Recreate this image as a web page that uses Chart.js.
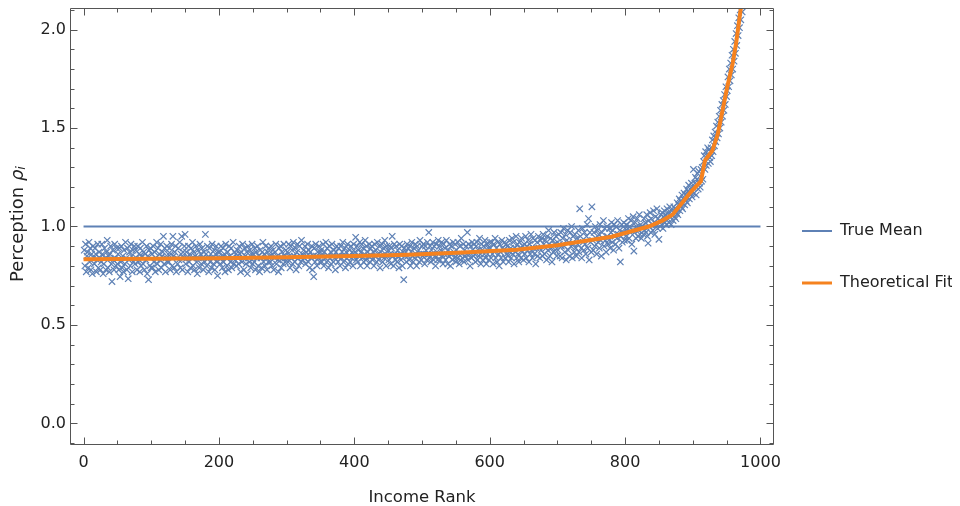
<!DOCTYPE html>
<html>
<head>
<meta charset="utf-8">
<script src="https://cdn.jsdelivr.net/npm/chart.js@4.4.0/dist/chart.umd.min.js"></script>
<style>
html, body { margin: 0; padding: 0; background: #fff; }
</style>
</head>
<body>
<canvas id="chart" width="960" height="506"></canvas>
<script>
// perception of each person, by income rank (1, 2, 3 ...)
var perception = [
 .88,.80,.91,.77,.85,.87,.79,.92,.82,.89,.78,.86,.76,.90,.84,.81,.89,.86,.77,.83,.91,.79,.87,.84,.78,
 .82,.91,.86,.76,.81,.89,.84,.78,.87,.93,.79,.85,.77,.86,.90,.81,.72,.88,.83,.78,.91,.84,.80,.89,.81,
 .86,.78,.89,.745,.82,.90,.79,.85,.77,.88,.81,.92,.84,.78,.89,.735,.83,.87,.80,.91,.85,.77,.88,.82,.90,
 .81,.88,.84,.78,.90,.82,.86,.77,.89,.80,.85,.92,.81,.87,.78,.86,.83,.90,.76,.85,.73,.88,.80,.89,.79,
 .86,.79,.90,.82,.87,.77,.84,.92,.81,.89,.78,.86,.83,.91,.79,.85,.87,.95,.81,.89,.77,.84,.90,.82,.86,
 .82,.89,.78,.86,.91,.80,.95,.85,.79,.87,.90,.77,.84,.81,.89,.83,.92,.79,.86,.95,.78,.87,.84,.90,.96,
 .81,.87,.84,.77,.90,.82,.86,.79,.89,.84,.92,.80,.87,.78,.85,.90,.82,.76,.88,.84,.79,.91,.86,.81,.89,
 .84,.78,.87,.82,.96,.86,.80,.90,.84,.77,.89,.82,.86,.79,.91,.84,.81,.88,.78,.86,.90,.82,.75,.87,.84,
 .87,.81,.90,.84,.79,.89,.82,.86,.77,.91,.84,.80,.87,.78,.90,.85,.82,.89,.79,.84,.92,.81,.87,.83,.86,
 .80,.88,.84,.81,.90,.86,.77,.87,.82,.91,.84,.78,.89,.85,.81,.87,.76,.90,.84,.82,.88,.79,.86,.91,.81,
 .86,.82,.89,.78,.87,.84,.90,.80,.85,.77,.88,.84,.79,.87,.92,.82,.86,.80,.90,.84,.78,.87,.82,.89,.85,
 .82,.90,.80,.86,.88,.78,.84,.87,.91,.81,.85,.83,.77,.89,.84,.90,.79,.87,.84,.81,.91,.85,.82,.88,.84,
 .87,.82,.91,.85,.79,.90,.84,.88,.81,.92,.85,.82,.89,.78,.87,.91,.84,.80,.90,.85,.82,.93,.86,.83,.88,
 .84,.90,.81,.87,.85,.91,.82,.88,.79,.87,.84,.90,.78,.85,.745,.89,.82,.91,.85,.80,.87,.84,.90,.82,.87,
 .88,.82,.85,.91,.80,.87,.84,.92,.82,.89,.85,.79,.90,.84,.87,.81,.91,.85,.82,.88,.84,.78,.87,.90,.85,
 .82,.89,.85,.80,.90,.84,.87,.92,.82,.85,.89,.79,.87,.84,.91,.81,.85,.88,.82,.90,.84,.87,.80,.91,.85,
 .87,.945,.83,.90,.82,.88,.85,.92,.80,.87,.91,.84,.89,.82,.86,.93,.83,.90,.80,.87,.85,.91,.82,.89,.85,
 .90,.83,.87,.80,.91,.85,.88,.82,.92,.86,.83,.90,.79,.87,.85,.91,.82,.89,.84,.93,.86,.80,.90,.85,.88,
 .83,.90,.86,.81,.89,.95,.85,.80,.91,.86,.83,.90,.82,.88,.85,.79,.91,.86,.83,.90,.80,.87,.73,.89,.85,
 .87,.82,.91,.85,.89,.83,.90,.80,.87,.92,.85,.82,.89,.84,.91,.86,.80,.90,.85,.88,.82,.93,.86,.83,.90,
 .85,.91,.86,.81,.90,.88,.83,.92,.86,.97,.84,.90,.82,.88,.86,.92,.83,.90,.85,.80,.91,.87,.83,.93,.86,
 .90,.83,.88,.92,.85,.81,.91,.86,.89,.83,.93,.86,.81,.88,.85,.91,.80,.90,.86,.83,.92,.87,.84,.91,.82,
 .88,.84,.92,.86,.81,.90,.83,.94,.86,.84,.91,.82,.88,.85,.90,.86,.97,.83,.91,.86,.80,.90,.84,.92,.88,
 .85,.91,.86,.82,.90,.92,.83,.88,.85,.94,.86,.81,.91,.88,.83,.90,.86,.93,.84,.81,.91,.86,.89,.83,.92,
 .89,.84,.92,.86,.81,.91,.87,.94,.84,.89,.82,.92,.86,.80,.91,.87,.84,.93,.89,.82,.88,.92,.84,.91,.86,
 .90,.85,.82,.93,.87,.89,.84,.94,.86,.92,.81,.89,.87,.95,.84,.91,.86,.82,.92,.89,.84,.94,.87,.90,.83,
 .91,.86,.95,.84,.90,.88,.93,.82,.91,.86,.96,.88,.84,.94,.89,.86,.93,.81,.89,.92,.85,.95,.89,.84,.93,
 .88,.94,.85,.96,.91,.86,.93,.89,.83,.95,.88,.98,.91,.85,.94,.89,.82,.93,.87,.97,.91,.88,.95,.85,.92,
 .88,.96,.91,.85,.97,.90,.84,.94,.99,.90,.87,.96,.83,.93,.98,.88,.92,.85,.97,.90,1.00,.84,.95,.91,.87,
 .96,.89,.85,.94,.91,.98,.87,1.09,.95,.89,.84,.99,.92,.88,.97,.91,.86,.95,1.01,.89,1.04,.83,.97,.92,.87,
 1.10,.93,.88,.97,.90,1.00,.94,.86,.98,.92,.96,.89,1.01,.93,.85,.97,.94,1.03,.90,.99,.93,.87,1.00,.95,.91,
 .93,.99,.89,.97,1.02,.92,.98,.88,1.01,.95,.91,1.00,.94,1.03,.96,.89,.98,.82,.95,1.01,.92,.97,1.02,.93,.99,
 .95,1.01,.93,.99,1.04,.94,1.00,.97,1.03,.91,.98,1.05,.875,.97,1.02,.94,1.00,1.04,.95,.98,1.06,.96,1.01,.94,1.00,
 1.00,.96,1.04,.98,1.02,.97,1.06,.95,.915,1.03,1.00,1.07,.97,1.04,1.01,.98,1.08,1.02,.96,1.05,1.01,1.09,.99,1.04,.935,
 1.03,1.00,1.06,1.01,1.07,.99,1.05,1.08,1.02,1.06,1.01,1.09,1.04,1.07,1.02,1.10,1.05,1.01,1.08,1.06,1.03,1.10,1.05,1.09,1.04,
 1.07,1.12,1.06,1.11,1.14,1.08,1.13,1.10,1.16,1.09,1.14,1.17,1.11,1.16,1.13,1.19,1.12,1.18,1.21,1.14,1.19,1.16,1.22,1.15,1.20,
 1.29,1.17,1.22,1.25,1.16,1.24,1.27,1.19,1.28,1.22,1.20,1.29,1.23,1.30,1.24,1.33,1.36,1.29,1.38,1.31,1.36,1.40,1.32,1.39,1.35,
 1.33,1.40,1.36,1.44,1.38,1.46,1.41,1.48,1.43,1.51,1.45,1.53,1.47,1.56,1.50,1.59,1.53,1.62,1.56,1.64,1.59,1.67,1.62,1.71,1.66,
 1.69,1.76,1.71,1.80,1.74,1.83,1.77,1.87,1.80,1.90,1.84,1.94,1.88,1.98,1.92,2.02,1.97,2.06,2.01,2.10,2.05,2.14,2.09,2.18,2.13
];

// theoretical fit
var fitRank  = [0, 100, 200, 300, 400, 480, 560, 640, 700, 780, 835, 855, 870, 882, 897, 912, 918, 929, 937, 944, 951, 959, 964, 970, 976];
var fitValue = [0.833, 0.836, 0.839, 0.844, 0.850, 0.857, 0.868, 0.882, 0.905, 0.948, 1.000, 1.030, 1.060, 1.110, 1.175, 1.230, 1.335, 1.386, 1.47, 1.59, 1.71, 1.83, 1.93, 2.085, 2.22];

// true mean
var meanRank  = [0, 1000];
var meanValue = [1, 1];

var xTicks = [0, 200, 400, 600, 800, 1000];
var yTicks = [0, 0.5, 1, 1.5, 2];

var FONT = '"DejaVu Sans", sans-serif';
var BLUE = '#5E81B5';
var ORANGE = '#F5821F';

function pts(xs, ys) {
    var out = [];
    for (var i = 0; i < xs.length; i++) out.push({x: xs[i], y: ys[i]});
    return out;
}

var scatterPts = [];
for (var i = 0; i < perception.length; i++) scatterPts.push({x: i + 1, y: perception[i]});

// legend box as wide as in the picture, and nudged a bit to the left
var legendBox = {
    id: 'legendBox',
    afterInit: function(chart) {
        var lg = chart.legend, fit = lg.fit;
        lg.fit = function() { fit.call(this); this.width = 186; };
    },
    afterLayout: function(chart) {
        chart.legend.left -= 8;
        chart.legend.right -= 8;
    }
};

// frame with inward ticks on all four sides, and the y title
var frameTicks = {
    id: 'frameTicks',
    afterDraw: function(chart) {
        var ctx = chart.ctx, a = chart.chartArea;
        var xs = chart.scales.x, ys = chart.scales.y;
        var L = Math.round(a.left) + 0.5, R = Math.round(a.right) - 0.5;
        var T = Math.round(a.top) + 0.5, B = Math.round(a.bottom) - 0.5;
        ctx.save();
        ctx.strokeStyle = '#555';
        ctx.lineWidth = 1;
        ctx.beginPath();
        ctx.moveTo(L, T); ctx.lineTo(R, T); ctx.lineTo(R, B); ctx.lineTo(L, B); ctx.closePath();
        var v, p, len;
        for (v = 0; v <= 1000; v += 50) {
            p = Math.round(xs.getPixelForValue(v)) + 0.5;
            len = (v % 200 === 0) ? 7 : 4;
            ctx.moveTo(p, B); ctx.lineTo(p, B - len);
            ctx.moveTo(p, T); ctx.lineTo(p, T + len);
        }
        for (var k = -1; k <= 21; k++) {
            v = k / 10;
            p = Math.round(ys.getPixelForValue(v)) + 0.5;
            if (p < a.top || p > a.bottom) continue;
            len = (k % 5 === 0) ? 7 : 4;
            ctx.moveTo(L, p); ctx.lineTo(L + len, p);
            ctx.moveTo(R, p); ctx.lineTo(R - len, p);
        }
        ctx.stroke();

        // y axis title: Perception ρ_i
        var f1 = '18px ' + FONT, f2 = 'italic 18px ' + FONT, f3 = 'italic 13px ' + FONT;
        ctx.font = f1; var w1 = ctx.measureText('Perception ').width;
        ctx.font = f2; var w2 = ctx.measureText('ρ').width;
        ctx.font = f3; var w3 = ctx.measureText('i').width;
        var total = w1 + w2 + w3;
        ctx.translate(18, 224);
        ctx.rotate(-Math.PI / 2);
        ctx.fillStyle = '#222';
        ctx.textBaseline = 'middle';
        ctx.textAlign = 'left';
        var x0 = -total / 2;
        ctx.font = f1; ctx.fillText('Perception ', x0, 0);
        ctx.font = f2; ctx.fillText('ρ', x0 + w1, 0);
        ctx.font = f3; ctx.fillText('i', x0 + w1 + w2, 4);
        ctx.restore();
    }
};

new Chart(document.getElementById('chart').getContext('2d'), {
    type: 'scatter',
    data: {
        datasets: [
            {
                label: 'True Mean',
                data: pts(meanRank, meanValue),
                showLine: true,
                borderColor: BLUE,
                backgroundColor: BLUE,
                borderWidth: 2,
                pointRadius: 0,
                order: 2,
                clip: 0
            },
            {
                label: 'Theoretical Fit',
                data: pts(fitRank, fitValue),
                showLine: true,
                borderColor: ORANGE,
                backgroundColor: ORANGE,
                borderWidth: 4,
                pointRadius: 0,
                order: 0,
                clip: 0
            },
            {
                label: 'Data',
                data: scatterPts,
                pointStyle: 'crossRot',
                pointRadius: 4.5,
                borderWidth: 1.2,
                borderColor: BLUE,
                backgroundColor: BLUE,
                order: 1,
                clip: 0
            }
        ]
    },
    options: {
        responsive: false,
        animation: false,
        layout: { padding: { left: 30, top: 8, right: 0, bottom: 0 } },
        plugins: {
            tooltip: { enabled: false },
            legend: {
                position: 'right',
                labels: {
                    usePointStyle: true,
                    pointStyle: 'line',
                    pointStyleWidth: 30,
                    padding: 36,
                    color: '#222',
                    font: { family: FONT, size: 16 },
                    generateLabels: function(chart) {
                        var items = Chart.defaults.plugins.legend.labels.generateLabels(chart);
                        items.forEach(function(it) { it.lineWidth = it.datasetIndex === 1 ? 3 : 2; });
                        return items;
                    },
                    filter: function(item) { return item.datasetIndex !== 2; },
                    sort: function(a, b) { return a.datasetIndex - b.datasetIndex; }
                }
            }
        },
        scales: {
            x: {
                type: 'linear',
                min: -20,
                max: 1020,
                afterBuildTicks: function(s) { s.ticks = xTicks.map(function(v) { return {value: v}; }); },
                afterFit: function(s) { s.height = 61; },
                grid: { display: false, drawTicks: false },
                border: { display: false },
                ticks: { padding: 8, color: '#222', font: { family: FONT, size: 16 }, maxRotation: 0,
                    callback: function(v) { return String(v); } },
                title: { display: true, text: 'Income Rank', color: '#222', font: { family: FONT, size: 16.5 }, padding: { top: 0, bottom: -2 } }
            },
            y: {
                type: 'linear',
                min: -0.11,
                max: 2.11,
                afterBuildTicks: function(s) { s.ticks = yTicks.map(function(v) { return {value: v}; }); },
                afterFit: function(s) { s.width = 40; s.paddingTop = 0; s.paddingBottom = 0; },
                grid: { display: false, drawTicks: false },
                border: { display: false },
                ticks: { padding: 4, color: '#222', font: { family: FONT, size: 16 },
                    callback: function(v) { return Number(v).toFixed(1); } }
            }
        }
    },
    plugins: [legendBox, frameTicks]
});
</script>
</body>
</html>
